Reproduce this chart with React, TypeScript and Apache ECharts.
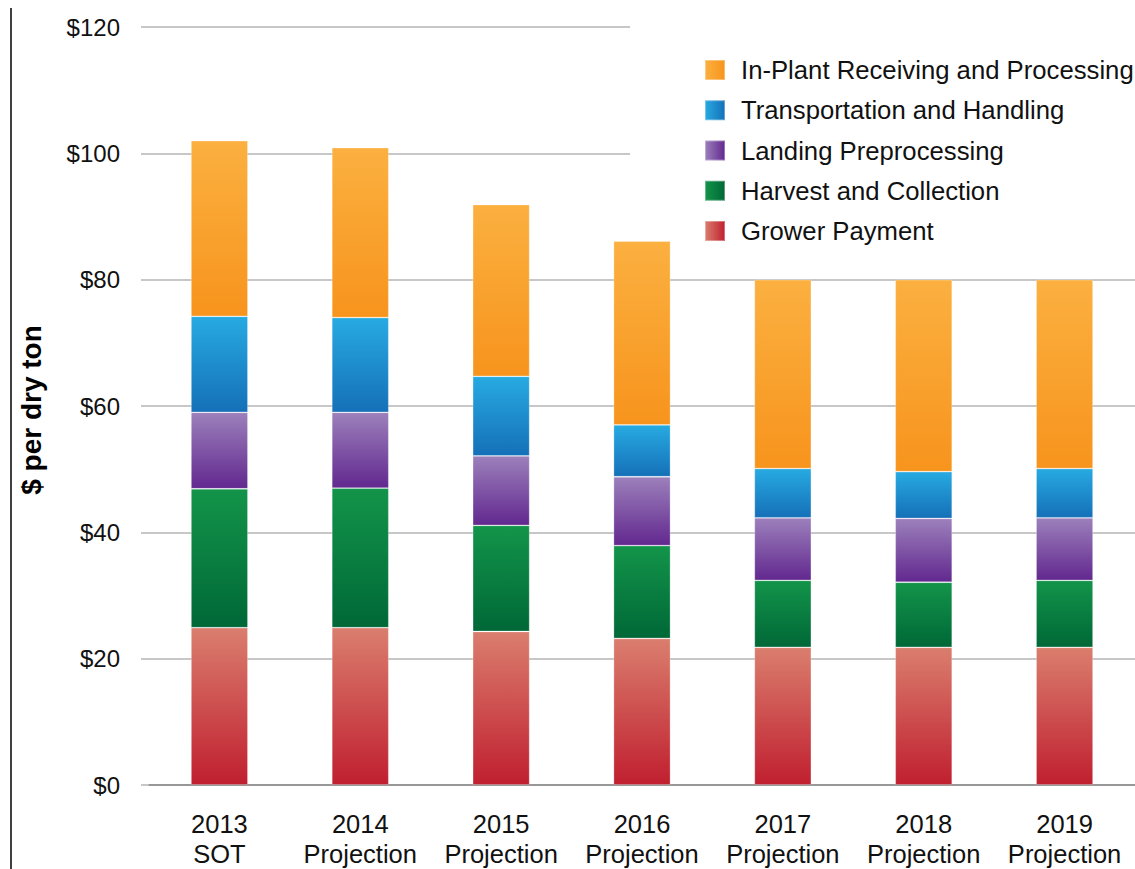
import React, { useEffect, useRef } from "react";
import * as echarts from "echarts";

const categories = ["2013\nSOT", "2014\nProjection", "2015\nProjection", "2016\nProjection", "2017\nProjection", "2018\nProjection", "2019\nProjection"];
const growerPayment = [24.9, 24.9, 24.3, 23.2, 21.8, 21.8, 21.8];
const harvestCollection = [22.0, 22.1, 16.8, 14.7, 10.6, 10.3, 10.6];
const landingPreprocessing = [12.1, 12.0, 11.0, 10.9, 9.9, 10.1, 9.9];
const transportationHandling = [15.2, 15.0, 12.6, 8.2, 7.8, 7.4, 7.8];
const inPlant = [27.8, 26.9, 27.2, 29.1, 29.9, 30.4, 29.9];
const yTicks = [0, 20, 40, 60, 80, 100, 120];

const seriesDefs = [
  { name: "Grower Payment", data: growerPayment, top: "#da7e6e", bottom: "#c01f2f" },
  { name: "Harvest and Collection", data: harvestCollection, top: "#13944a", bottom: "#006837" },
  { name: "Landing Preprocessing", data: landingPreprocessing, top: "#9c80bb", bottom: "#62288f" },
  { name: "Transportation and Handling", data: transportationHandling, top: "#27aae1", bottom: "#1570b8" },
  { name: "In-Plant Receiving and Processing", data: inPlant, top: "#fbb040", bottom: "#f7941d" },
];

const grad = (x2: number, y2: number, a: string, b: string) => ({
  type: "linear",
  x: 0,
  y: 0,
  x2,
  y2,
  colorStops: [
    { offset: 0, color: a },
    { offset: 1, color: b },
  ],
});

export default function App() {
  const ref = useRef<HTMLDivElement>(null);
  useEffect(() => {
    document.body.style.margin = "0";
    const chart = echarts.init(ref.current!, null, { renderer: "svg" });
    const font = "Liberation Sans, Arial, sans-serif";
    chart.setOption({
      animation: false,
      backgroundColor: "#fff",
      textStyle: { fontFamily: font },
      grid: { left: 149, top: 27, width: 990, height: 760, containLabel: false },
      legend: {
        left: 630,
        top: 20,
        z: 1,
        orient: "vertical",
        backgroundColor: "#fff",
        padding: [37, 4, 14, 74],
        itemWidth: 20,
        itemHeight: 20,
        itemGap: 14.25,
        itemTextGap: 17,
        textStyle: { fontSize: 25.7, color: "#111", fontFamily: font, padding: [0, 0, 0, 11] },
        data: [...seriesDefs].reverse().map((s) => ({
          name: s.name,
          icon: "rect",
          itemStyle: { color: grad(1, 0, s.top, s.bottom) },
        })),
      },
      xAxis: {
        type: "category",
        data: categories,
        axisLine: { lineStyle: { color: "#888", width: 1.5 } },
        axisTick: { show: false },
        axisLabel: { interval: 0, fontSize: 25.5, color: "#111", lineHeight: 30, margin: 24, fontFamily: font },
      },
      yAxis: {
        type: "value",
        min: yTicks[0],
        max: yTicks[yTicks.length - 1],
        interval: 20,
        axisLine: { show: false },
        axisTick: { show: true, length: 8, lineStyle: { color: "#b5b5b5", width: 1.5 } },
        splitLine: { lineStyle: { color: "#b5b5b5", width: 1.5 } },
        axisLabel: { fontSize: 24, color: "#111", margin: 29, formatter: (v: number) => "$" + v, fontFamily: font },
      },
      series: seriesDefs.map((s) => ({
        name: s.name,
        type: "bar",
        stack: "total",
        z: 3,
        barWidth: 57,
        data: s.data,
        itemStyle: {
          color: grad(0, 1, s.top, s.bottom),
          borderColor: "rgba(255,255,255,0.35)",
          borderWidth: 0.8,
        },
      })),
      graphic: [
        {
          type: "line",
          shape: { x1: 11, y1: 8, x2: 11, y2: 869 },
          style: { stroke: "#000", lineWidth: 1.5 },
        },
        {
          type: "text",
          x: 31,
          y: 410,
          rotation: Math.PI / 2,
          style: {
            text: "$ per dry ton",
            fontSize: 28,
            fontWeight: "bold",
            fontFamily: font,
            fill: "#000",
            align: "center",
            verticalAlign: "middle",
          },
        },
      ],
    });
    return () => chart.dispose();
  }, []);
  return <div ref={ref} style={{ width: 1135, height: 869 }} />;
}
